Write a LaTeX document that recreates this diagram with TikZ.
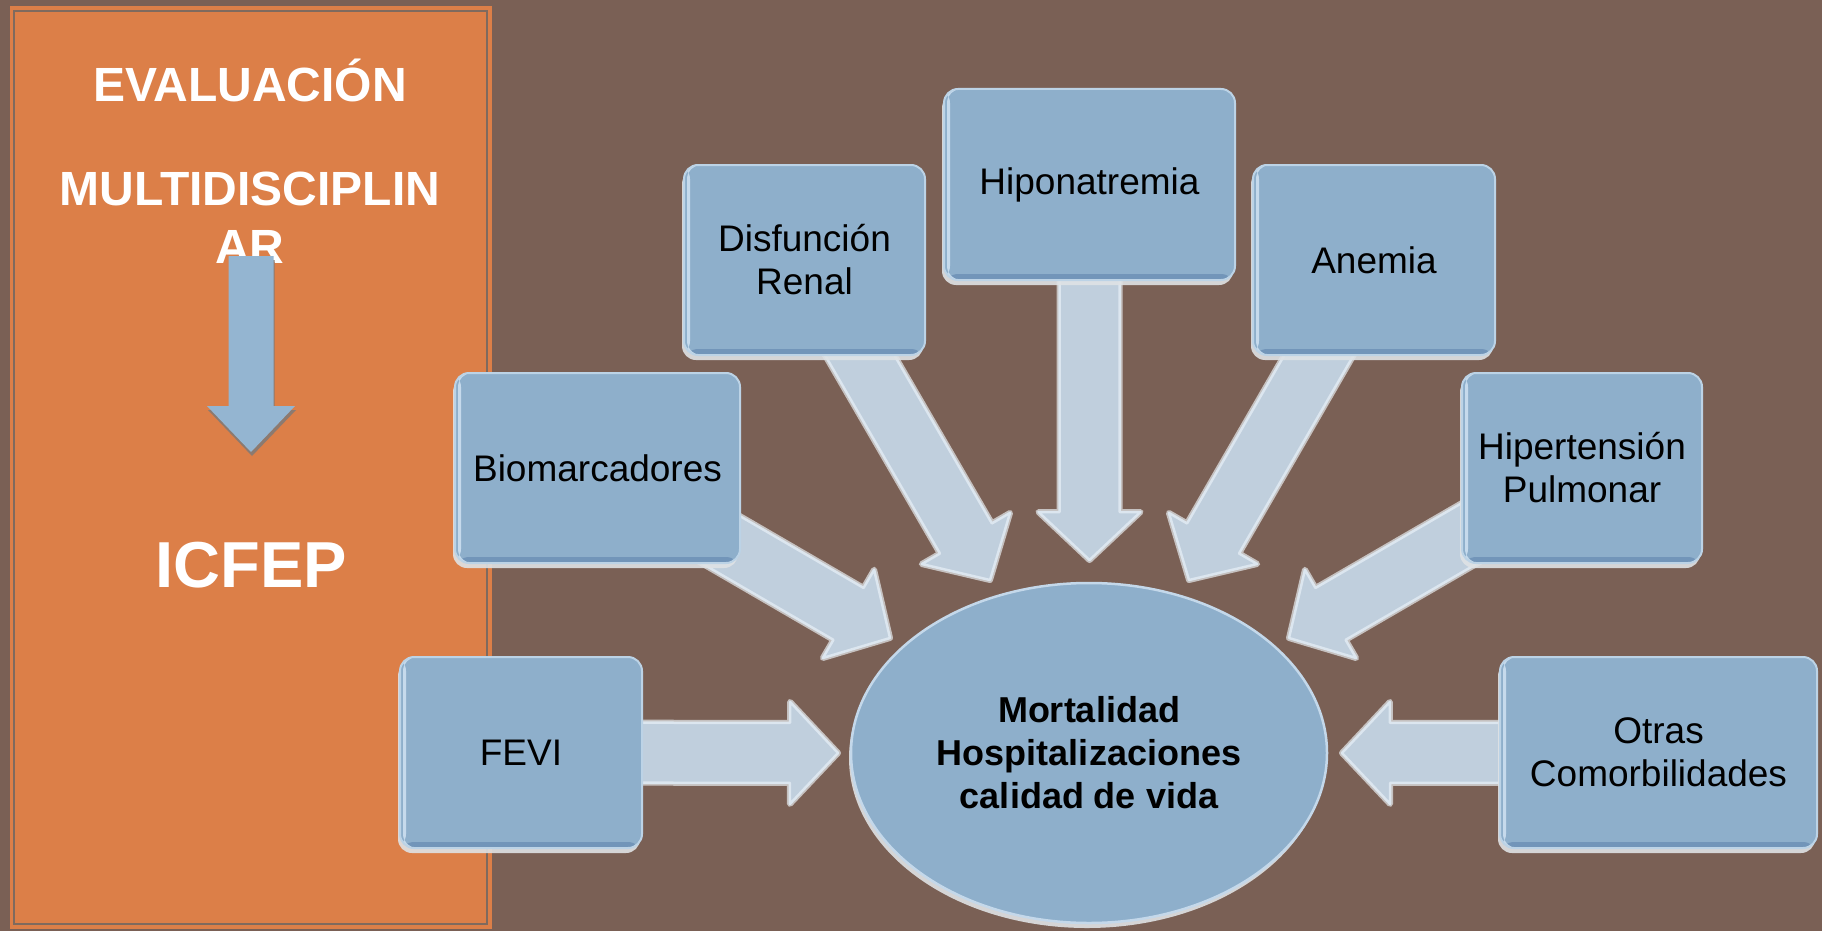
\documentclass[tikz,border=0pt]{standalone}
\usepackage{fontspec}
\setmainfont{Liberation Sans}
\usetikzlibrary{calc,shapes.geometric,shadows}
\definecolor{bgbrown}{HTML}{7A6055}
\definecolor{panelorange}{HTML}{DC7F48}
\definecolor{panelline}{HTML}{7F6A5E}
\definecolor{boxfill}{HTML}{8EAFCB}
\definecolor{boxedge}{HTML}{BCD3E6}
\definecolor{boxdark}{HTML}{7295B9}
\definecolor{boxlight}{HTML}{C6DAEC}
\definecolor{arrowfill}{HTML}{C0CFDD}
\definecolor{arrowedge}{HTML}{DCE6EF}
\definecolor{halo}{HTML}{DFE2E5}
\definecolor{ellipseedge}{HTML}{C4D8EA}
\definecolor{panelarrow}{HTML}{94B5D1}
\definecolor{panelshadow}{HTML}{8C7A70}
\pgfdeclarelayer{back}
\pgfdeclarelayer{arrowlayer}
\pgfsetlayers{back,arrowlayer,main}
% block arrow polygon: #1 style, #2 start, #3 tip, #4 shaft half width, #5 head half width, #6 head length
\newcommand\arrowpoly[6]{%
  \coordinate (ba-h) at ($(#3)!#6!(#2)$);
  \path[#1] ($(#2)!#4!90:(#3)$) -- ($(ba-h)!#4!90:(#3)$) -- ($(ba-h)!#5!90:(#3)$) -- (#3)
    -- ($(ba-h)!#5!-90:(#3)$) -- ($(ba-h)!#4!-90:(#3)$) -- ($(#2)!#4!-90:(#3)$) -- cycle;
}
\newcommand\blockarrow[2]{%
  \arrowpoly{draw=halo,draw opacity=0.75,line width=6pt,line join=round}{#1}{#2}{30pt}{51pt}{48pt}
  \arrowpoly{fill=arrowfill,draw=arrowedge,line width=2.5pt,line join=round}{#1}{#2}{30pt}{51pt}{48pt}
}
\tikzset{
  box/.style={rounded corners=14pt, fill=boxfill, draw=boxedge, line width=2pt,
    text=black, font=\fontsize{37}{43}\selectfont, align=center, inner sep=0pt,
    drop shadow={shadow xshift=-2pt, shadow yshift=-5pt, fill=halo, opacity=0.9},
    path picture={
      \fill[boxdark] ([yshift=6pt]path picture bounding box.south west) rectangle (path picture bounding box.south east);
      \fill[boxlight] ([xshift=3pt]path picture bounding box.south west) rectangle ([xshift=6pt]path picture bounding box.north west);
    }},
  paneltext/.style={font=\bfseries\fontsize{48}{58}\selectfont, text=white, inner sep=0pt, anchor=base}
}
\begin{document}
\begin{tikzpicture}[x=1pt,y=-1pt]
\useasboundingbox (0,0) rectangle (1822,931);
\begin{pgfonlayer}{back}
  \fill[bgbrown] (0,0) rectangle (1822,931);
  \fill[panelorange] (10,6) rectangle (492,929);
  \draw[panelline, line width=1.5pt] (14,11) rectangle (487,924);
\end{pgfonlayer}

% left panel
\node[paneltext] (t1) at (250,102) {EVALUACIÓN};
\node[paneltext] (t2) at (250,205) {MULTIDISCIPLIN};
\node[paneltext] (t3) at (250,263) {AR};
\node[font=\bfseries\fontsize{65}{78}\selectfont, text=white, inner sep=0pt, anchor=base] (icfep) at (251,587) {ICFEP};
\coordinate (pa-s) at (251,256);
\coordinate (pa-t) at (251,452);
\coordinate (pas-s) at (252,260);
\coordinate (pas-t) at (252,456);
\arrowpoly{fill=panelshadow}{pas-s}{pas-t}{22.5pt}{44pt}{46pt}
\arrowpoly{fill=panelarrow}{pa-s}{pa-t}{22.5pt}{44pt}{46pt}

% boxes
\node[box, minimum width=285pt, minimum height=190pt] (bio) at (597.5,468) {Biomarcadores};
\node[box, minimum width=241pt, minimum height=190pt] (dis) at (804.5,260) {Disfunción\\Renal};
\node[box, minimum width=291pt, minimum height=191pt] (hipo) at (1089.5,184.5) {Hiponatremia};
\node[box, minimum width=242pt, minimum height=190pt] (ane) at (1374,260) {Anemia};
\node[box, minimum width=240pt, minimum height=190pt] (hip) at (1582,468) {Hipertensión\\Pulmonar};
\node[box, minimum width=242pt, minimum height=191pt] (fevi) at (521,752.5) {FEVI};
\node[box, minimum width=317pt, minimum height=191pt] (otras) at (1658.5,752.5) {Otras\\Comorbilidades};

% central ellipse
\node[ellipse, minimum width=476pt, minimum height=340pt, fill=boxfill, draw=ellipseedge,
  line width=2.5pt, inner sep=0pt, align=center, font=\bfseries\fontsize{36}{43}\selectfont,
  drop shadow={shadow xshift=-2pt, shadow yshift=-5pt, fill=halo, opacity=0.9}]
  (out) at (1089,753) {Mortalidad\\Hospitalizaciones\\calidad de vida};

% arrow tips
\coordinate (tip-bio) at (890,638);
\coordinate (tip-dis) at (990,580);
\coordinate (tip-hipo) at (1089.5,560);
\coordinate (tip-ane) at (1189,580);
\coordinate (tip-hip) at (1289,638);
\coordinate (tip-fevi) at (838,753);
\coordinate (tip-otras) at (1342,753);

\begin{pgfonlayer}{arrowlayer}
  \blockarrow{bio}{tip-bio}
  \blockarrow{dis}{tip-dis}
  \blockarrow{hipo}{tip-hipo}
  \blockarrow{ane}{tip-ane}
  \blockarrow{hip}{tip-hip}
  \blockarrow{fevi}{tip-fevi}
  \blockarrow{otras}{tip-otras}
\end{pgfonlayer}
\end{tikzpicture}
\end{document}
